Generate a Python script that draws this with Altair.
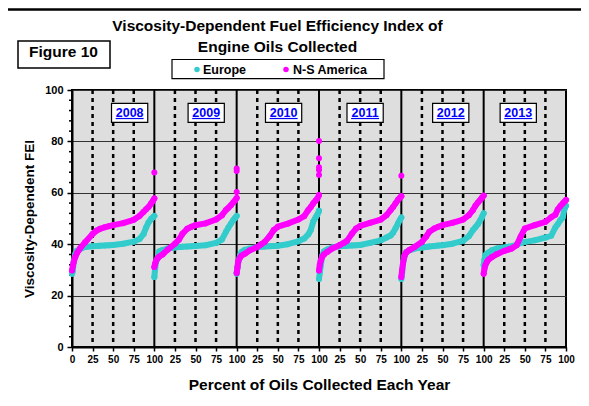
import altair as alt
import pandas as pd

years = ["2008", "2009", "2010", "2011", "2012", "2013"]
pct = [0, 1, 2, 4, 6, 10, 16, 25, 30, 34, 40, 45, 50, 62, 75, 82, 87, 90, 93, 96, 98, 100]

europe = {
    "2008": [28.5, 29.5, 33.0, 36.2, 37.5, 38.2, 38.9, 39.2, 39.3, 39.4, 39.5, 39.6, 39.7, 40.2, 41.0, 42.0, 44.0, 46.5, 48.5, 49.8, 50.4, 51.0],
    "2009": [27.2, 30.5, 33.1, 34.5, 37.2, 37.7, 38.3, 38.7, 38.9, 39.0, 39.1, 39.2, 39.3, 39.6, 40.5, 41.8, 44.8, 46.5, 48.0, 49.4, 50.2, 51.0],
    "2010": [28.5, 31.0, 33.1, 35.5, 37.0, 37.8, 38.3, 38.9, 39.0, 39.1, 39.2, 39.3, 39.4, 40.0, 41.1, 42.2, 43.8, 45.5, 48.8, 50.5, 51.5, 53.0],
    "2011": [26.5, 29.0, 31.5, 35.5, 37.2, 37.9, 38.7, 39.2, 39.3, 39.4, 39.5, 39.6, 39.7, 40.5, 41.5, 42.6, 43.4, 44.5, 46.2, 48.1, 49.3, 50.4],
    "2012": [26.5, 29.0, 32.5, 35.5, 37.0, 37.6, 38.3, 38.7, 38.9, 39.1, 39.3, 39.5, 39.6, 40.2, 41.3, 43.1, 45.5, 46.6, 47.8, 49.4, 50.6, 52.0],
    "2013": [31.8, 34.0, 35.7, 36.3, 36.8, 37.6, 38.3, 38.7, 39.0, 39.2, 39.8, 40.5, 40.9, 41.5, 42.6, 43.3, 46.5, 47.8, 49.3, 50.4, 53.5, 55.0],
}
ns_america = {
    "2008": [29.8, 31.5, 33.0, 35.0, 36.5, 38.5, 40.8, 44.0, 45.3, 46.0, 46.6, 47.0, 47.4, 48.2, 49.5, 51.0, 52.6, 53.6, 54.5, 55.8, 56.7, 57.8],
    "2009": [31.1, 32.5, 33.5, 34.5, 35.2, 36.0, 37.8, 40.2, 41.8, 44.0, 46.0, 46.8, 47.4, 48.1, 49.6, 51.2, 53.3, 54.2, 55.2, 56.3, 57.0, 58.0],
    "2010": [28.8, 31.1, 33.5, 34.8, 35.6, 36.3, 37.6, 38.9, 40.0, 40.9, 43.1, 45.5, 46.8, 48.0, 49.6, 50.9, 53.3, 54.5, 55.9, 57.0, 57.8, 59.1],
    "2011": [29.8, 32.0, 33.5, 35.2, 36.0, 37.0, 38.3, 39.6, 40.5, 41.3, 44.1, 46.1, 47.1, 48.3, 49.6, 51.3, 53.3, 54.5, 55.9, 57.3, 58.0, 58.7],
    "2012": [27.2, 30.0, 32.4, 35.7, 36.8, 37.8, 38.9, 40.9, 42.9, 44.8, 46.1, 46.8, 47.4, 48.3, 49.6, 51.3, 53.3, 55.0, 56.2, 57.3, 58.2, 58.9],
    "2013": [28.5, 30.5, 31.8, 33.2, 34.0, 35.0, 36.1, 37.4, 37.9, 38.3, 39.6, 43.0, 46.1, 47.4, 48.7, 50.5, 51.5, 53.5, 54.8, 55.8, 56.5, 57.2],
}
# isolated high N-S America oils at the 100 % end of each year
ns_outliers = {
    "2008": [67.9],
    "2009": [60.3, 68.5, 69.5],
    "2010": [66.9, 68.9, 69.9, 73.4, 80.2],
    "2011": [66.6],
}
series_names = ["Europe", "N-S America"]
series_colors = ["#33CCCC", "#FF00FF"]

# layout of the year label boxes (percent within each year panel)
year_label_pos = [70, 63, 57, 56, 60, 42]

FONT = "Liberation Sans"

rows = []
for i, yr in enumerate(years):
    for p, v in zip(pct, europe[yr]):
        rows.append({"year": yr, "series": "Europe", "x": i * 100 + p, "fei": v})
    for p, v in zip(pct, ns_america[yr]):
        rows.append({"year": yr, "series": "N-S America", "x": i * 100 + p, "fei": v})
df = pd.DataFrame(rows)

out_rows = []
for i, yr in enumerate(years):
    for v in ns_outliers.get(yr, []):
        out_rows.append({"year": yr, "series": "N-S America", "x": i * 100 + 100, "fei": v})
df_out = pd.DataFrame(out_rows)

sep_df = pd.DataFrame({"x": [i * 100 for i in range(1, 6)]})
dash_df = pd.DataFrame({"x": [i * 100 + q for i in range(6) for q in (25, 50, 75)]})
minor_df = pd.DataFrame({"v": [v for v in range(4, 100, 4) if v % 20 != 0]})
label_df = pd.DataFrame({"year": years, "xc": [i * 100 + p for i, p in enumerate(year_label_pos)]})

xs = alt.Scale(domain=[0, 600], nice=False, zero=False)
ys = alt.Scale(domain=[0, 100], nice=False)
xaxis = alt.Axis(
    values=list(range(0, 601, 25)),
    labelExpr="datum.value == 0 ? '0' : (datum.value % 100 == 0 ? '100' : '' + (datum.value % 100))",
    title="Percent of Oils Collected Each Year",
    grid=False, tickSize=4, tickColor="black", tickWidth=1.5,
    labelFont=FONT, labelFontSize=10, labelFontWeight="bold", labelColor="black",
    labelPadding=3, labelOverlap=False, labelFlush=False,
    domainColor="black", domainWidth=2,
    titleFont=FONT, titleFontSize=15.5, titleFontWeight="bold", titleColor="black",
    titleX=247, titleY=42, titleBaseline="alphabetic", titleAlign="center",
)
yaxis = alt.Axis(
    values=[0, 20, 40, 60, 80, 100],
    title="Viscosity-Dependent FEI",
    grid=True, gridColor="#333333", gridWidth=1,
    tickSize=5, tickColor="black", tickWidth=1.5,
    labelFont=FONT, labelFontSize=11, labelFontWeight="bold", labelColor="black",
    labelPadding=4,
    domainColor="black", domainWidth=2,
    titleFont=FONT, titleFontSize=13.5, titleFontWeight="bold", titleColor="black",
    titleX=-39, titleY=128.5, titleAngle=270, titleAlign="center", titleBaseline="alphabetic",
)


def X(field):
    return alt.X(field, type="quantitative", scale=xs, axis=xaxis)


def Y(field):
    return alt.Y(field, type="quantitative", scale=ys, axis=yaxis)


color = alt.Color("series:N", scale=alt.Scale(domain=series_names, range=series_colors), legend=None)

dashes = alt.Chart(dash_df).mark_rule(color="black", strokeWidth=2.5, strokeDash=[4, 4]).encode(x=X("x"))
seps = alt.Chart(sep_df).mark_rule(color="black", strokeWidth=2).encode(x=X("x"))
minor = alt.Chart(minor_df).mark_rule(color="black", strokeWidth=1.5).encode(
    y=Y("v"), x=alt.value(-3), x2=alt.value(0))

boxes = alt.Chart(label_df).transform_calculate(
    x1="datum.xc - 22", x2="datum.xc + 22"
).mark_rect(fill="white", stroke="black", strokeWidth=1.2).encode(
    x=X("x1"), x2="x2:Q", y=alt.datum(87.4, scale=ys, axis=yaxis), y2=alt.datum(94.8))
box_text = alt.Chart(label_df).mark_text(
    font=FONT, fontSize=12.5, fontWeight="bold", color="#0000FF", baseline="alphabetic", align="center"
).encode(x=X("xc"), y=alt.datum(89.6, scale=ys, axis=yaxis), text="year:N")
underline = alt.Chart(label_df).transform_calculate(
    u1="datum.xc - 17", u2="datum.xc + 17"
).mark_rule(color="#0000FF", strokeWidth=1.2).encode(
    x=X("u1"), x2="u2:Q", y=alt.datum(88.9, scale=ys, axis=yaxis))

eu_line = alt.Chart(df).transform_filter("datum.series == 'Europe'").mark_line(
    strokeWidth=6, strokeCap="round", strokeJoin="round").encode(
    x=X("x"), y=Y("fei"), color=color, detail="year:N", order="x:Q")
eu_pts = alt.Chart(df).transform_filter("datum.series == 'Europe'").mark_circle(size=36, opacity=1).encode(
    x=X("x"), y=Y("fei"), color=color)
ns_line = alt.Chart(df).transform_filter("datum.series == 'N-S America'").mark_line(
    strokeWidth=6, strokeCap="round", strokeJoin="round").encode(
    x=X("x"), y=Y("fei"), color=color, detail="year:N", order="x:Q")
ns_pts = alt.Chart(df).transform_filter("datum.series == 'N-S America'").mark_circle(size=36, opacity=1).encode(
    x=X("x"), y=Y("fei"), color=color)
outs = alt.Chart(df_out).mark_circle(size=36, opacity=1).encode(x=X("x"), y=Y("fei"), color=color)

dummy = pd.DataFrame({"t": ["frame"]})
frame_top = alt.Chart(dummy).mark_rule(color="black", strokeWidth=2.5).encode(
    x=alt.value(-67.2), x2=alt.value(509), y=alt.value(-80.5))
frame_left = alt.Chart(dummy).mark_rule(color="black", strokeWidth=2.5).encode(
    x=alt.value(-66), y=alt.value(-81.7), y2=alt.value(308))
title1 = alt.Chart(pd.DataFrame({"t": ["Viscosity-Dependent Fuel Efficiency Index of"]})).mark_text(
    font=FONT, fontSize=15.5, fontWeight="bold", color="black", align="center", baseline="alphabetic"
).encode(text="t:N", x=alt.value(205.5), y=alt.value(-59.3))
title2 = alt.Chart(pd.DataFrame({"t": ["Engine Oils Collected"]})).mark_text(
    font=FONT, fontSize=15.5, fontWeight="bold", color="black", align="center", baseline="alphabetic"
).encode(text="t:N", x=alt.value(205.5), y=alt.value(-37.7))
fig_box = alt.Chart(dummy).mark_rect(fill="white", stroke="black", strokeWidth=1.5).encode(
    x=alt.value(-54), x2=alt.value(38), y=alt.value(-49), y2=alt.value(-22))
fig_text = alt.Chart(pd.DataFrame({"t": ["Figure 10"]})).mark_text(
    font=FONT, fontSize=15.5, fontWeight="bold", color="black", align="center", baseline="alphabetic"
).encode(text="t:N", x=alt.value(-8.5), y=alt.value(-33.3))

leg_box = alt.Chart(dummy).mark_rect(fill="white", stroke="black", strokeWidth=1.2).encode(
    x=alt.value(100), x2=alt.value(312), y=alt.value(-30.5), y2=alt.value(-11.3))
leg_df = pd.DataFrame({"series": series_names})
leg_eu_dot = alt.Chart(leg_df).transform_filter("datum.series == 'Europe'").mark_circle(size=30, opacity=1).encode(
    x=alt.value(125), y=alt.value(-20.5), color=color)
leg_ns_dot = alt.Chart(leg_df).transform_filter("datum.series == 'N-S America'").mark_circle(size=30, opacity=1).encode(
    x=alt.value(214), y=alt.value(-20.5), color=color)
leg_eu_txt = alt.Chart(leg_df).transform_filter("datum.series == 'Europe'").mark_text(
    font=FONT, fontSize=12.5, fontWeight="bold", color="black", align="left", baseline="alphabetic"
).encode(text="series:N", x=alt.value(131), y=alt.value(-16))
leg_ns_txt = alt.Chart(leg_df).transform_filter("datum.series == 'N-S America'").mark_text(
    font=FONT, fontSize=12.5, fontWeight="bold", color="black", align="left", baseline="alphabetic"
).encode(text="series:N", x=alt.value(221), y=alt.value(-16))

chart = alt.layer(
    minor, dashes, seps, boxes, underline, box_text,
    eu_line, eu_pts, ns_line, ns_pts, outs,
    frame_top, frame_left, title1, title2, fig_box, fig_text,
    leg_box, leg_eu_dot, leg_ns_dot, leg_eu_txt, leg_ns_txt,
).properties(
    width=494, height=257,
    padding={"left": 64, "top": 82, "right": 15, "bottom": 51},
    autosize=alt.AutoSizeParams(type="none"),
    background="white",
).configure_view(
    fill="#dedede", stroke="black", strokeWidth=2
)

chart.save("out.html", embed_options={"renderer": "svg", "actions": False})
